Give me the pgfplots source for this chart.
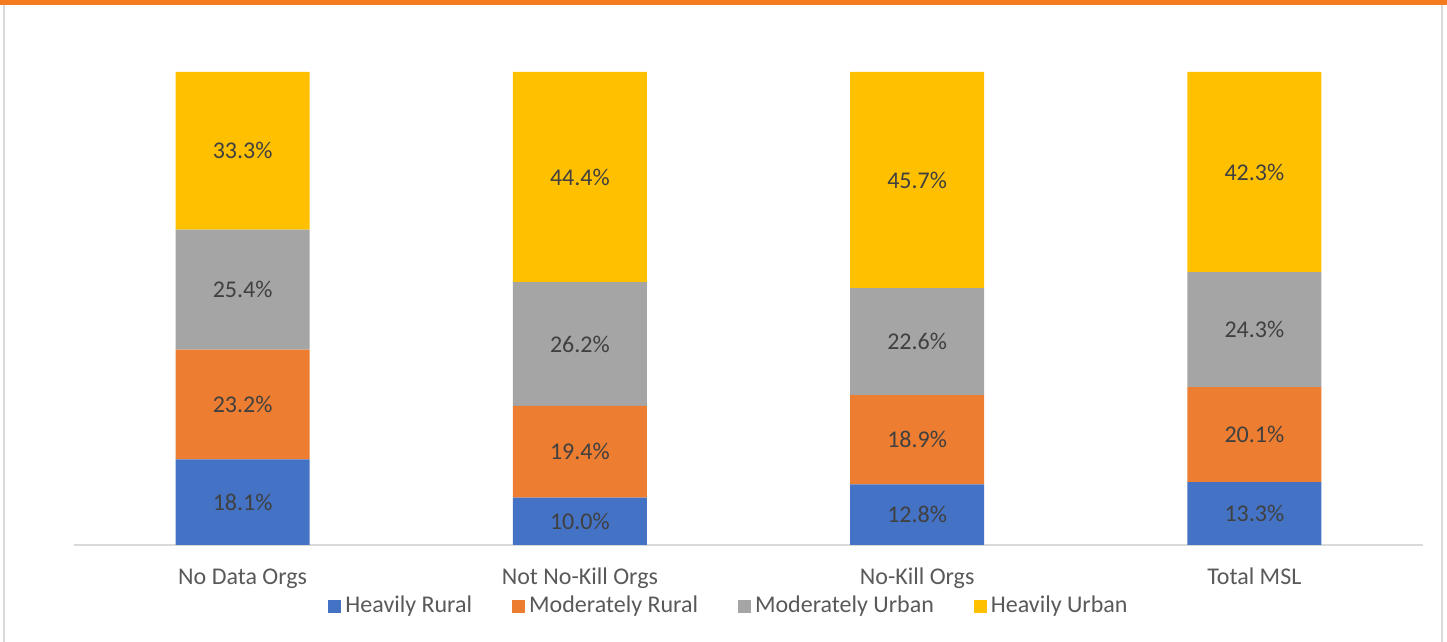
\documentclass[border=0pt]{standalone}
\usepackage{pgfplots}
\pgfplotsset{compat=1.18}
\usepackage{fontspec}
\setmainfont{Carlito}
\definecolor{cBlue}{HTML}{4472C4}
\definecolor{cOrange}{HTML}{ED7D31}
\definecolor{cGrey}{HTML}{A5A5A5}
\definecolor{cYellow}{HTML}{FFC000}
\definecolor{topor}{HTML}{F47B20}
\definecolor{sidegrey}{HTML}{D9D9D9}
\definecolor{txtgrey}{HTML}{595959}
\definecolor{lblgrey}{HTML}{404040}
\begin{document}
\begin{tikzpicture}[x=0.5pt,y=0.5pt]
\path[use as bounding box] (0,0) rectangle (1447,642);
\fill[topor] (0,637) rectangle (1447,642);
\fill[sidegrey] (3,0) rectangle (5,637);
\fill[sidegrey] (1441,0) rectangle (1443,637);
\begin{axis}[
  at={(37pt,48.5pt)}, anchor=south west,
  scale only axis, width=674.5pt, height=236.5pt,
  ybar stacked, bar width=67pt,
  xmin=-0.5, xmax=3.5, ymin=0, ymax=100,
  axis y line=none, axis x line*=bottom,
  x axis line style={sidegrey, line width=0.8pt},
  xtick={0,1,2,3},
  xticklabels={No Data Orgs, Not No-Kill Orgs, No-Kill Orgs, Total MSL},
  major tick length=0pt,
  xticklabel style={font=\fontsize{12}{14}\selectfont, text=txtgrey, anchor=base, yshift=-20pt},
  point meta=rawy,
  nodes near coords={\pgfmathprintnumber[fixed,fixed zerofill,precision=1,assume math mode=true]{\pgfplotspointmeta}\%},
  every node near coord/.append style={font=\fontsize{12}{14}\selectfont, text=lblgrey, anchor=center},
  legend columns=4,
  legend style={at={(0.4863,-0.1290)}, anchor=center, draw=none, fill=none,
    font=\fontsize{12}{14}\selectfont, text=txtgrey,
    /tikz/every even column/.append style={column sep=18pt}},
  legend image code/.code={\fill[#1] (0pt,-3.25pt) rectangle (6.5pt,3.25pt);},
]
\addplot[fill=cBlue, draw=none] coordinates {(0,18.1) (1,10.0) (2,12.8) (3,13.3)};
\addplot[fill=cOrange, draw=none] coordinates {(0,23.2) (1,19.4) (2,18.9) (3,20.1)};
\addplot[fill=cGrey, draw=none] coordinates {(0,25.4) (1,26.2) (2,22.6) (3,24.3)};
\addplot[fill=cYellow, draw=none] coordinates {(0,33.3) (1,44.4) (2,45.7) (3,42.3)};
\legend{Heavily Rural, Moderately Rural, Moderately Urban, Heavily Urban}
\end{axis}
\end{tikzpicture}
\end{document}
